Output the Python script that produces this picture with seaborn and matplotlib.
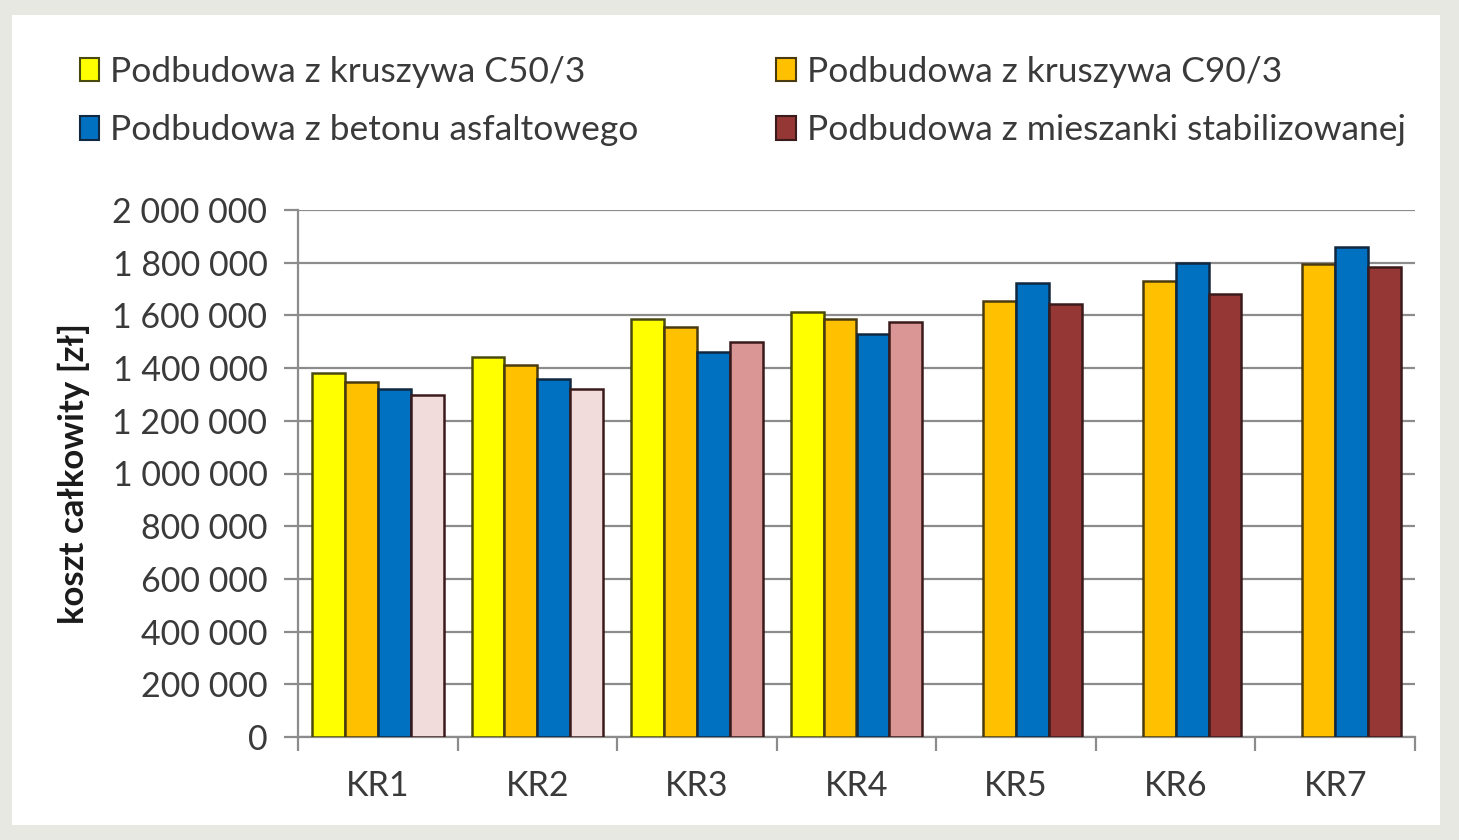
import pandas as pd
import numpy as np
import matplotlib
matplotlib.use("Agg")
import matplotlib.pyplot as plt
from matplotlib.patches import Patch, Rectangle
from matplotlib.ticker import FuncFormatter, FixedLocator
import seaborn as sns

# dane
kategorie = ["KR1", "KR2", "KR3", "KR4", "KR5", "KR6", "KR7"]
serie = ["Podbudowa z kruszywa C50/3", "Podbudowa z kruszywa C90/3",
         "Podbudowa z betonu asfaltowego", "Podbudowa z mieszanki stabilizowanej"]
c50 = [1380000, 1443000, 1586000, 1613000, np.nan, np.nan, np.nan]
c90 = [1348000, 1413000, 1556000, 1586000, 1655000, 1731000, 1795000]
beton = [1321000, 1359000, 1461000, 1529000, 1723000, 1799000, 1860000]
mieszanka = [1298000, 1321000, 1499000, 1575000, 1643000, 1681000, 1784000]

kolory = ["#FFFF00", "#FFC000", "#0070C0", "#953735"]
# odcienie ostatniej serii zmieniaja sie wg kategorii
kolory_mieszanki = ["#F2DCDB", "#F2DCDB", "#D99694", "#D99694", "#953735", "#953735", "#953735"]
krawedzie = ["#4a4a10", "#4a3a10", "#102840", "#3a1a1a"]

df = pd.DataFrame({"kategoria": kategorie * 4,
                   "seria": np.repeat(serie, len(kategorie)),
                   "koszt": c50 + c90 + beton + mieszanka})

sns.set_style("white")
plt.rcParams["font.family"] = ["Lato", "DejaVu Sans"]

fig = plt.figure(figsize=(14.59, 8.40), dpi=100)
fig.patch.set_facecolor("#e8e8e3")
fig.add_artist(Rectangle((12 / 1459, 15 / 840), 1428 / 1459, 810 / 840,
                         transform=fig.transFigure, facecolor="white",
                         edgecolor="none", zorder=0))
ax = fig.add_axes([298 / 1459, 1 - 737 / 840, 1117 / 1459, 527 / 840])
ax.set_facecolor("none")

sns.barplot(data=df, x="kategoria", y="koszt", hue="seria", hue_order=serie,
            order=kategorie, palette=kolory, saturation=1, width=0.825,
            errorbar=None, ax=ax, legend=False, zorder=3)

for i, cont in enumerate(ax.containers):
    for bar in cont:
        bar.set_edgecolor(krawedzie[i])
        bar.set_linewidth(1.8)
        if i == 3:
            k = int(round(bar.get_x() + bar.get_width() / 2))
            bar.set_facecolor(kolory_mieszanki[k])

ax.set_ylim(0, 2000000)
ax.set_xlim(-0.5, 6.5)
ax.set_yticks(np.arange(0, 2000001, 200000))
ax.yaxis.set_major_formatter(FuncFormatter(lambda v, p: f"{v:,.0f}".replace(",", " ")))
ax.grid(axis="y", color="#8c8c8c", linewidth=1.6, zorder=0)
ax.set_axisbelow(True)
for s in ["top", "right"]:
    ax.spines[s].set_visible(False)
for s in ["left", "bottom"]:
    ax.spines[s].set_color("#8c8c8c")
    ax.spines[s].set_linewidth(1.6)

ax.tick_params(axis="y", length=10, width=1.6, color="#8c8c8c", labelsize=24.5,
               labelcolor="#3a3a3a", pad=12, left=True)
ax.tick_params(axis="x", which="major", length=0, labelsize=24.5,
               labelcolor="#3a3a3a", pad=24)
ax.xaxis.set_minor_locator(FixedLocator(np.arange(-0.5, 7, 1)))
ax.tick_params(axis="x", which="minor", length=10, width=1.6, color="#8c8c8c", bottom=True)

ax.set_xlabel("")
ax.set_ylabel("koszt całkowity [zł]", fontsize=25, fontweight="bold",
              color="#1a1a1a", labelpad=16)

# kolejnosc wg kolumn, zeby wiersze byly jak w oryginale
kol = [0, 2, 1, 3]
uchwyty = [Patch(facecolor=kolory[i], edgecolor=krawedzie[i], linewidth=1.5) for i in kol]
fig.legend(uchwyty, [serie[i] for i in kol], loc="upper left",
           bbox_to_anchor=(48 / 1459, 1 - 24 / 840),
           ncol=2, frameon=False, fontsize=25.5, handlelength=0.55, handleheight=0.65,
           handletextpad=0.3, columnspacing=3.9, labelspacing=0.75,
           labelcolor="#3a3a3a")

fig.savefig("out.png", dpi=100, facecolor=fig.get_facecolor())
